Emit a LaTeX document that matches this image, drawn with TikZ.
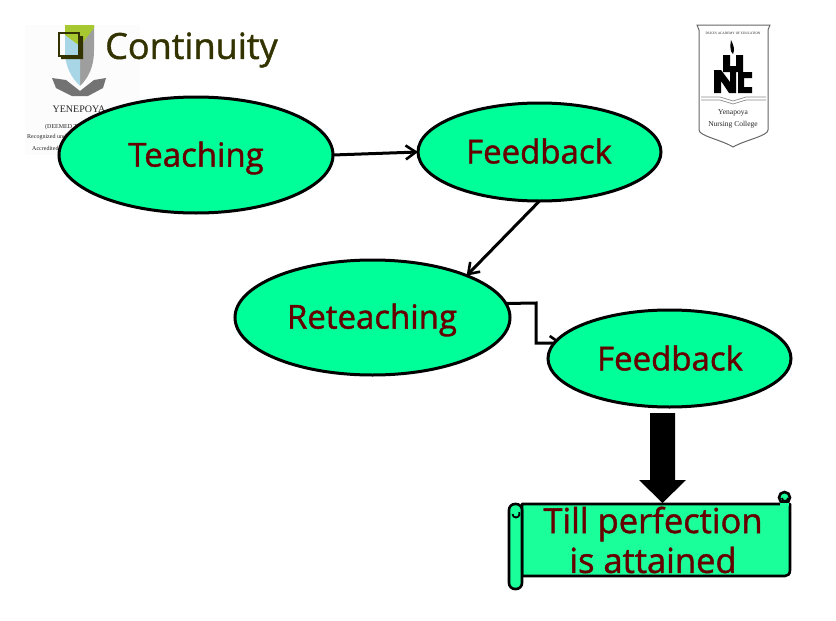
\documentclass[tikz,border=0pt]{standalone}
\usepackage{fontspec}
\setmainfont{Open Sans}
\newfontface\heavy{Open Sans}[FakeBold=1.2]
\newfontfamily\logofont{Liberation Serif}
\definecolor{mint}{HTML}{00FF99}
\definecolor{scrollmint}{HTML}{1AFF99}
\definecolor{wine}{HTML}{660000}
\definecolor{olive}{HTML}{333300}
\definecolor{shieldblue}{HTML}{A9D6E6}
\definecolor{shieldgreen}{HTML}{A8C832}
\tikzset{
  oval/.style={draw=black,line width=3pt,fill=mint,ellipse,inner sep=0pt,outer sep=0pt},
  lbl/.style={text=wine,font=\heavy\fontsize{33}{38}\selectfont,inner sep=0pt},
  conn/.style={draw=black,line width=3pt},
  openhead/.style={-{Straight Barb[length=10pt,width=14pt,line width=2.6pt]}},
  logotxt/.style={font=\logofont,text=black!85,inner sep=0pt}
}
\usetikzlibrary{shapes.geometric,arrows.meta}
\begin{document}
\begin{tikzpicture}[x=1pt,y=-1pt]
\useasboundingbox (0,0) rectangle (836,621);
% left logo
\fill[black!1] (25,25) rectangle (140,155);
\fill[black!38] (80,25) -- (94,25) -- (94,50) .. controls (94,68) and (88,78) .. (80,86) -- cycle;
\fill[shieldblue] (65,35) -- (80,45) -- (80,86) .. controls (72,78) and (65,68) .. (65,50) -- cycle;
\fill[shieldgreen] (65,25) -- (94,25) -- (94,28) -- (80,46) -- (65,35) -- cycle;
\fill[black!55] (52,78) -- (66,80) -- (80,91) -- (94,80) -- (106,78) -- (103,88) -- (88,96) -- (72,96) -- (56,88) -- cycle;
\node[logotxt,font=\logofont\fontsize{10}{10}\selectfont] (yen) at (79,109) {YENEPOYA};
\node[logotxt,anchor=west,font=\logofont\fontsize{6}{7}\selectfont] (ln1) at (45,127) {(DEEMED TO};
\node[logotxt,anchor=west,font=\logofont\fontsize{6}{7}\selectfont] (ln2) at (27,137) {Recognized under};
\node[logotxt,anchor=west,font=\logofont\fontsize{6}{7}\selectfont] (ln3) at (32,148) {Accredited};
% right logo
\draw[black!60,line width=1pt,fill=white] (697,25) -- (770,25) -- (768,30) -- (768,130) .. controls (768,136) and (745,140) .. (733,147) .. controls (722,140) and (699,136) .. (699,130) -- (699,30) -- cycle;
\draw[black!45,line width=.7pt] (701,97) -- (720,97) -- (733,101) -- (746,97) -- (766,97);
\draw[black!45,line width=.7pt] (701,100) -- (720,100) -- (733,104) -- (746,100) -- (766,100);
\node[logotxt,font=\logofont\fontsize{3.4}{4}\selectfont] (tiny) at (733,33) {DUKES ACADEMY OF EDUCATION};
\fill[black] (731,40) .. controls (734,46) and (735,50) .. (733,54) .. controls (730,52) and (730,46) .. (731,40) -- cycle;
\fill[black] (723,55) rectangle (730,72) (736,55) rectangle (743,72) (723,66) rectangle (743,72);
\fill[black] (714,70) -- (721,70) -- (730,82) -- (730,70) -- (736,70) -- (736,93) -- (729,93) -- (721,81) -- (721,93) -- (714,93) -- cycle;
\fill[black] (738,72) -- (752,72) -- (752,78) -- (744,78) -- (744,87) -- (752,87) -- (752,93) -- (738,93) -- cycle;
\node[logotxt,font=\logofont\fontsize{7.5}{8}\selectfont] (yn) at (733,113) {Yenapoya};
\node[logotxt,font=\logofont\fontsize{7.5}{8}\selectfont] (nc) at (733,125) {Nursing College};
% title
\draw[olive,line width=2.4pt] (59,33) rectangle (79,56);
\fill[olive] (79,36) rectangle (83,59) (61,55) rectangle (83,59);
\node[text=olive,font=\heavy\fontsize{36}{40}\selectfont,anchor=west,inner sep=0pt] (title) at (105,50) {Continuity};
% connector coordinates
\coordinate (b1) at (536,303);
\coordinate (b2) at (536,343);
\coordinate (b3) at (562,343);
% ovals
\node[oval,minimum width=274pt,minimum height=116pt] (teach) at (196,155) {};
\node[oval,minimum width=243pt,minimum height=98pt] (fb1) at (539.5,152) {};
\node[oval,minimum width=275pt,minimum height=115pt] (ret) at (372.5,317.5) {};
% connectors
\draw[conn,openhead] (teach.east) -- (fb1.west);
\draw[conn,openhead] (fb1.south) -- (ret.24);
\draw[conn,openhead] (ret.6) -- (b1) -- (b2) -- (b3);
\node[oval,minimum width=243pt,minimum height=97pt] (fb2) at (669.5,358.5) {};
% labels
\node[lbl] (teachl) at (196,158) {Teaching};
\node[lbl] (fb1l) at (539,151) {Feedback};
\node[lbl] (retl) at (372,320) {Reteaching};
\node[lbl] (fb2l) at (670,358) {Feedback};
% scroll
\draw[black,line width=2.6pt,fill=scrollmint,line join=round] (522,504) -- (790,504) -- (790,570) .. controls (790,574) and (788,576) .. (785,576) -- (522,576) -- cycle;
\draw[black,line width=2.6pt,fill=scrollmint,rounded corners=6pt] (509,504) rectangle (522,589);
\draw[black,line width=2.6pt,fill=scrollmint] (784.5,497.5) circle[radius=5.5];
\fill[scrollmint] (780,503) rectangle (789,506);
\draw[black,line width=1.8pt] (512.5,514) arc[start angle=180,end angle=-30,radius=3.5];
\draw[black,line width=1.8pt] (782,498) arc[start angle=180,end angle=0,radius=3];
% block arrow between second feedback and scroll
\coordinate (sc) at (662.5,503);
\fill[black] (sc) -- ++(-23.5,-23) -- ++(11,0) -- ++(0,-67) -- ++(25,0) -- ++(0,67) -- ++(11,0) -- cycle;
\node[lbl,font=\heavy\fontsize{34.5}{38}\selectfont] (till) at (653,524) {Till perfection};
\node[lbl,font=\heavy\fontsize{34.5}{38}\selectfont] (att) at (653,560) {is attained};
\end{tikzpicture}
\end{document}
